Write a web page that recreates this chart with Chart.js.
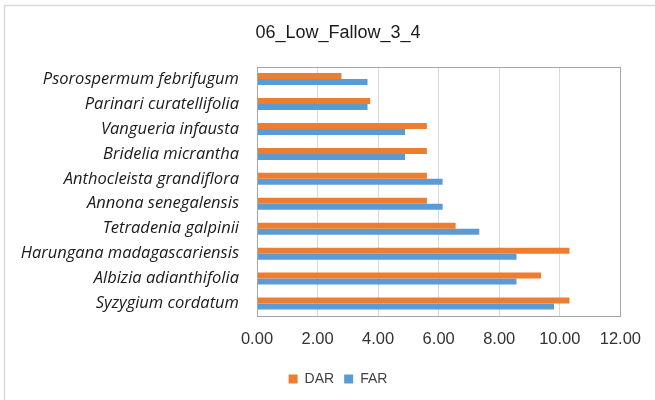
<!DOCTYPE html>
<html>
<head>
<meta charset="utf-8">
<script src="https://cdn.jsdelivr.net/npm/chart.js@4.4.0/dist/chart.umd.min.js"></script>
<style>
  html, body { margin: 0; padding: 0; background: #fff; }
  #wrap { position: relative; width: 655px; height: 400px; }
</style>
</head>
<body>
<div id="wrap"><canvas id="chart" width="655" height="400"></canvas></div>
<script>
// species, top to bottom as shown in the chart
const species = [
  'Psorospermum febrifugum',
  'Parinari curatellifolia',
  'Vangueria infausta',
  'Bridelia micrantha',
  'Anthocleista grandiflora',
  'Annona senegalensis',
  'Tetradenia galpinii',
  'Harungana madagascariensis',
  'Albizia adianthifolia',
  'Syzygium cordatum'
];
const darValues = [2.79, 3.74, 5.61, 5.61, 5.61, 5.61, 6.56, 10.32, 9.38, 10.32];
const farValues = [3.65, 3.65, 4.89, 4.89, 6.13, 6.13, 7.34, 8.57, 8.57, 9.81];
const xTicks = [0, 2, 4, 6, 8, 10, 12];

const FONT = "'Liberation Sans', Arial, sans-serif";
const LABEL_FONT = "'Open Sans', 'Liberation Sans', sans-serif";
const PAD_LEFT = 48;

// excel style frame: outer chart border + plot area box
const framePlugin = {
  id: 'frame',
  afterLayout(chart) {
    // let the long species names run past the scale box instead of being clipped
    chart.scales.y.left = 0;
  },
  beforeDraw(chart) {
    const ctx = chart.ctx;
    ctx.save();
    ctx.fillStyle = '#fff';
    ctx.fillRect(0, 0, chart.width, chart.height);
    ctx.strokeStyle = '#d9d9d9';
    ctx.lineWidth = 1.5;
    ctx.strokeRect(4.5, 5.5, chart.width + 10, chart.height + 10);
    ctx.restore();
  },
  afterDatasetsDraw(chart) {
    const a = chart.chartArea;
    const ctx = chart.ctx;
    ctx.save();
    ctx.strokeStyle = '#a6a6a6';
    ctx.lineWidth = 1;
    ctx.strokeRect(Math.round(a.left) + 0.5, Math.round(a.top) + 0.5,
      Math.round(a.right - a.left), Math.round(a.bottom - a.top));
    ctx.restore();
  }
};

new Chart(document.getElementById('chart'), {
  type: 'bar',
  data: {
    labels: species,
    datasets: [
      { label: 'DAR', data: darValues, backgroundColor: '#ED7D31', borderWidth: 0 },
      { label: 'FAR', data: farValues, backgroundColor: '#5B9BD5', borderWidth: 0 }
    ]
  },
  plugins: [framePlugin],
  options: {
    indexAxis: 'y',
    responsive: false,
    animation: false,
    categoryPercentage: 0.48,
    barPercentage: 1.0,
    layout: { padding: { left: PAD_LEFT, right: 27, top: 0, bottom: 4 } },
    plugins: {
      title: {
        display: true,
        text: '06_Low_Fallow_3_4',
        color: '#1a1a1a',
        font: { family: FONT, size: 18, weight: 'normal' },
        padding: { top: 22, bottom: 23 }
      },
      legend: {
        position: 'bottom',
        labels: {
          boxWidth: 9,
          boxHeight: 9,
          color: '#404040',
          font: { family: FONT, size: 14 },
          padding: 10
        }
      },
      tooltip: { enabled: false }
    },
    scales: {
      x: {
        min: 0,
        max: 12,
        afterBuildTicks: scale => { scale.ticks = xTicks.map(v => ({ value: v })); },
        afterFit: scale => { scale.height = 46; },
        grid: { color: '#d9d9d9', drawTicks: false },
        border: { display: false },
        ticks: {
          padding: 14,
          color: '#333',
          font: { family: FONT, size: 16.5 },
          callback: v => Number(v).toFixed(2)
        }
      },
      y: {
        afterFit: scale => { scale.width = 257 - PAD_LEFT; },
        grid: { display: false, drawTicks: false },
        border: { display: false },
        ticks: {
          padding: 18,
          color: '#1a1a1a',
          autoSkip: false,
          font: { family: LABEL_FONT, size: 16.5, style: 'italic' }
        }
      }
    }
  }
});
</script>
</body>
</html>
